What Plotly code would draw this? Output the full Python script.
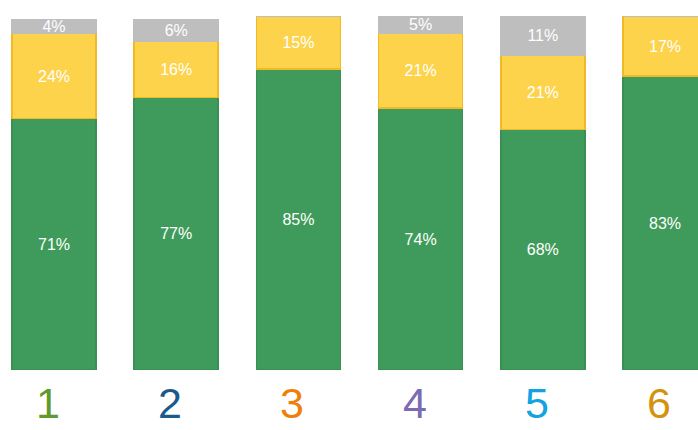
import plotly.graph_objects as go

# Survey groups and share of responses per group (percent)
categories = ["1", "2", "3", "4", "5", "6"]
green_vals = [71, 77, 85, 74, 68, 83]
yellow_vals = [24, 16, 15, 21, 21, 17]
gray_vals = [4, 6, 0, 5, 11, 0]
label_colors = ["#5f9a2c", "#1b5a8c", "#f07f0a", "#7a6bb2", "#12a3e0", "#d4930c"]

x_idx = list(range(len(categories)))


def pct_text(vals):
    return [f"{v}%" if v > 0 else "" for v in vals]


fig = go.Figure()
series = [
    (green_vals, "#3f9b5b", "#3a8f54"),
    (yellow_vals, "#fdd34c", "#f0b925"),
    (gray_vals, "#bebebe", "#bebebe"),
]
for vals, fill, edge in series:
    fig.add_trace(go.Bar(
        x=x_idx, y=vals, width=0.687,
        marker=dict(color=fill, line=dict(color=edge, width=1.5)),
        text=pct_text(vals), textposition="inside",
        insidetextanchor="middle", constraintext="none",
        textfont=dict(color="white", size=16, family="Liberation Sans, Arial"),
        showlegend=False, hoverinfo="skip", cliponaxis=False,
    ))

# Coloured group numbers under each bar
for i, (cat, col) in enumerate(zip(categories, label_colors)):
    fig.add_annotation(
        x=i, y=0, xref="x", yref="paper", text=cat, showarrow=False,
        yanchor="bottom", yshift=-59, xshift=-6,
        font=dict(color=col, size=43, family="Liberation Sans, Arial"),
    )

fig.update_layout(
    barmode="stack",
    width=698, height=430,
    margin=dict(l=0, r=0, t=16, b=60),
    paper_bgcolor="white", plot_bgcolor="white",
    xaxis=dict(range=[-54 / 122.2, (698 - 54) / 122.2], visible=False),
    yaxis=dict(range=[0, 100], visible=False),
    uniformtext=dict(mode="show", minsize=16),
)

fig.write_html("out.html")
